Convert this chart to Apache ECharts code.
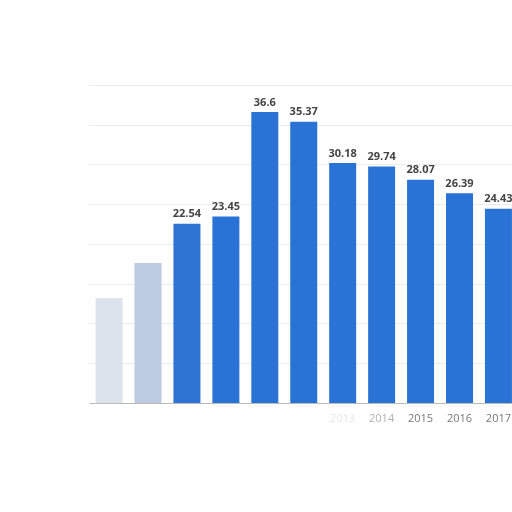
<!DOCTYPE html>
<html>
<head>
<meta charset="utf-8">
<script src="https://cdn.jsdelivr.net/npm/echarts@6/dist/echarts.min.js"></script>
<style>
html,body{margin:0;padding:0;background:#fff;overflow:hidden;width:512px;height:512px;}
#chart{width:540px;height:512px;}
</style>
</head>
<body>
<div id="chart"></div>
<script>
var categories = ['2007','2008','2009','2010','2011','2012','2013','2014','2015','2016','2017'];
var values = [13.2, 17.6, 22.54, 23.45, 36.6, 35.37, 30.18, 29.74, 28.07, 26.39, 24.43];
var barColors = ['#dde3ec','#bccbe2','#2f74d2','#2a73d6','#2a73d6','#2a73d6','#2a73d6','#2a73d6','#2a73d6','#2a73d6','#2a73d6'];
var labelColors = ['#fff','#fff','#fff','#fff','#fff','#fff','#e6e6e6','#b0b0b0','#777','#777','#777'];
var showValue = [false,false,true,true,true,true,true,true,true,true,true];

var chart = echarts.init(document.getElementById('chart'));
chart.setOption({
  animation:false,
  grid:{left:89.6, right:22.1, top:85, bottom:109, containLabel:false},
  xAxis:{
    type:'category',
    data:categories,
    axisTick:{show:false},
    axisLine:{lineStyle:{color:'#bbb'}},
    axisLabel:{
      fontSize:11, fontFamily:'Open Sans', margin:10,
      color:function(v, i){ return labelColors[categories.indexOf(v)]; }
    }
  },
  yAxis:{
    type:'value', min:0, max:40, interval:5,
    axisLabel:{show:false},
    axisLine:{show:false}, axisTick:{show:false},
    splitLine:{lineStyle:{color:'#d6d6d6', type:'dotted'}}
  },
  series:[{
    type:'bar',
    barWidth:27,
    data: values.map(function(v,i){
      return {value:v, itemStyle:{color:barColors[i]}, label:{show:showValue[i]}};
    }),
    label:{
      show:true, position:'top', distance:4,
      fontSize:11, fontWeight:'bold', fontFamily:'Open Sans', color:'#444'
    }
  }]
});
</script>
</body>
</html>
